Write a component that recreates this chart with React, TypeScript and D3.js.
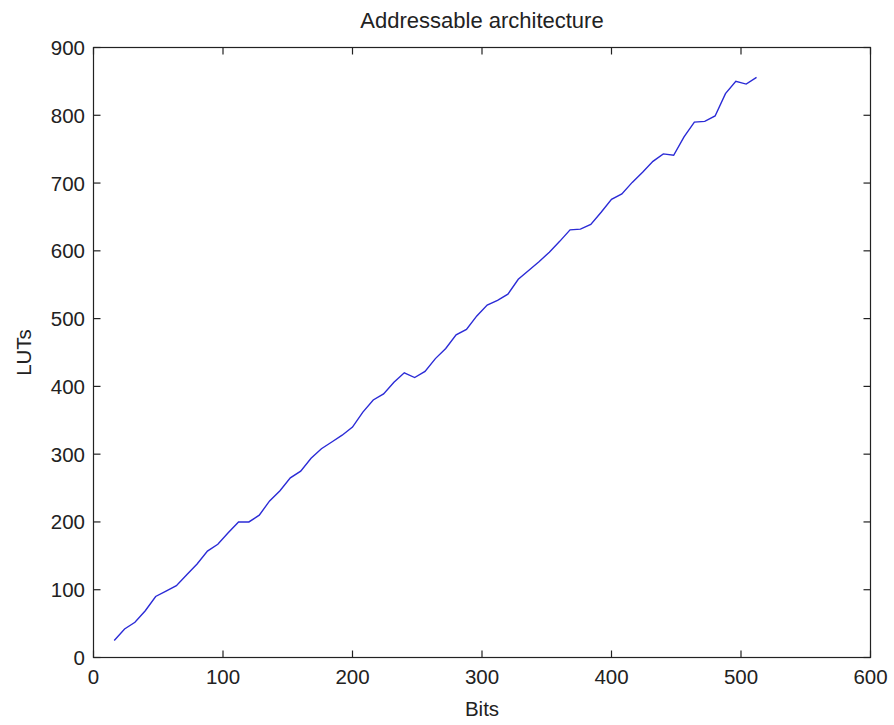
import React from "react";
import * as d3 from "d3";

const bits = [16, 24, 32, 40, 48, 56, 64, 72, 80, 88, 96, 104, 112, 120, 128, 136, 144, 152, 160, 168, 176, 184, 192, 200, 208, 216, 224, 232, 240, 248, 256, 264, 272, 280, 288, 296, 304, 312, 320, 328, 336, 344, 352, 360, 368, 376, 384, 392, 400, 408, 416, 424, 432, 440, 448, 456, 464, 472, 480, 488, 496, 504, 512];
const luts = [25, 42, 52, 69, 90, 98, 106, 122, 138, 157, 167, 184, 200, 200, 210, 231, 246, 265, 275, 294, 308, 318, 328, 340, 362, 380, 389, 406, 420, 413, 422, 441, 456, 476, 484, 504, 520, 527, 536, 558, 571, 584, 598, 614, 631, 632, 639, 657, 676, 684, 701, 716, 732, 743, 741, 768, 790, 791, 799, 832, 850, 846, 856];
const xTicks = [0, 100, 200, 300, 400, 500, 600];
const yTicks = [0, 100, 200, 300, 400, 500, 600, 700, 800, 900];

export default function App() {
  const W = 894, H = 725;
  const left = 93.5, right = 870.5, top = 47.5, bottom = 657.5;
  const x = d3.scaleLinear().domain([0, 600]).range([left, right]);
  const y = d3.scaleLinear().domain([0, 900]).range([bottom, top]);
  const line = d3.line<number>().x((_, i) => x(bits[i])).y((d) => y(d));
  const font = "Arial, 'Liberation Sans', Helvetica, sans-serif";
  const tl = 7;
  const fs = 20.5;
  return (
    <svg width={W} height={H} style={{ position: "absolute", left: 0, top: 0, background: "#fff" }}>
      <rect x={0} y={0} width={W} height={H} fill="#fff" />
      <path d={line(luts) || ""} fill="none" stroke="#2b2bd6" strokeWidth={1.4} />
      <rect x={left} y={top} width={right - left} height={bottom - top} fill="none" stroke="#222" strokeWidth={1.2} />
      {xTicks.map((t) => (
        <g key={"x" + t}>
          <line x1={x(t)} x2={x(t)} y1={bottom} y2={bottom - tl} stroke="#222" strokeWidth={1.2} />
          <line x1={x(t)} x2={x(t)} y1={top} y2={top + tl} stroke="#222" strokeWidth={1.2} />
          <text x={x(t)} y={684} textAnchor="middle" fontFamily={font} fontSize={fs} fill="#222">{t}</text>
        </g>
      ))}
      {yTicks.map((t) => (
        <g key={"y" + t}>
          <line x1={left} x2={left + tl} y1={y(t)} y2={y(t)} stroke="#222" strokeWidth={1.2} />
          <line x1={right} x2={right - tl} y1={y(t)} y2={y(t)} stroke="#222" strokeWidth={1.2} />
          <text x={85} y={y(t) + 7.5} textAnchor="end" fontFamily={font} fontSize={fs} fill="#222">{t}</text>
        </g>
      ))}
      <text x={(left + right) / 2} y={28} textAnchor="middle" fontFamily={font} fontSize={22} fill="#222">Addressable architecture</text>
      <text x={(left + right) / 2} y={716} textAnchor="middle" fontFamily={font} fontSize={fs} fill="#222">Bits</text>
      <text transform={`translate(31, ${(top + bottom) / 2}) rotate(-90)`} textAnchor="middle" fontFamily={font} fontSize={fs} fill="#222">LUTs</text>
    </svg>
  );
}
